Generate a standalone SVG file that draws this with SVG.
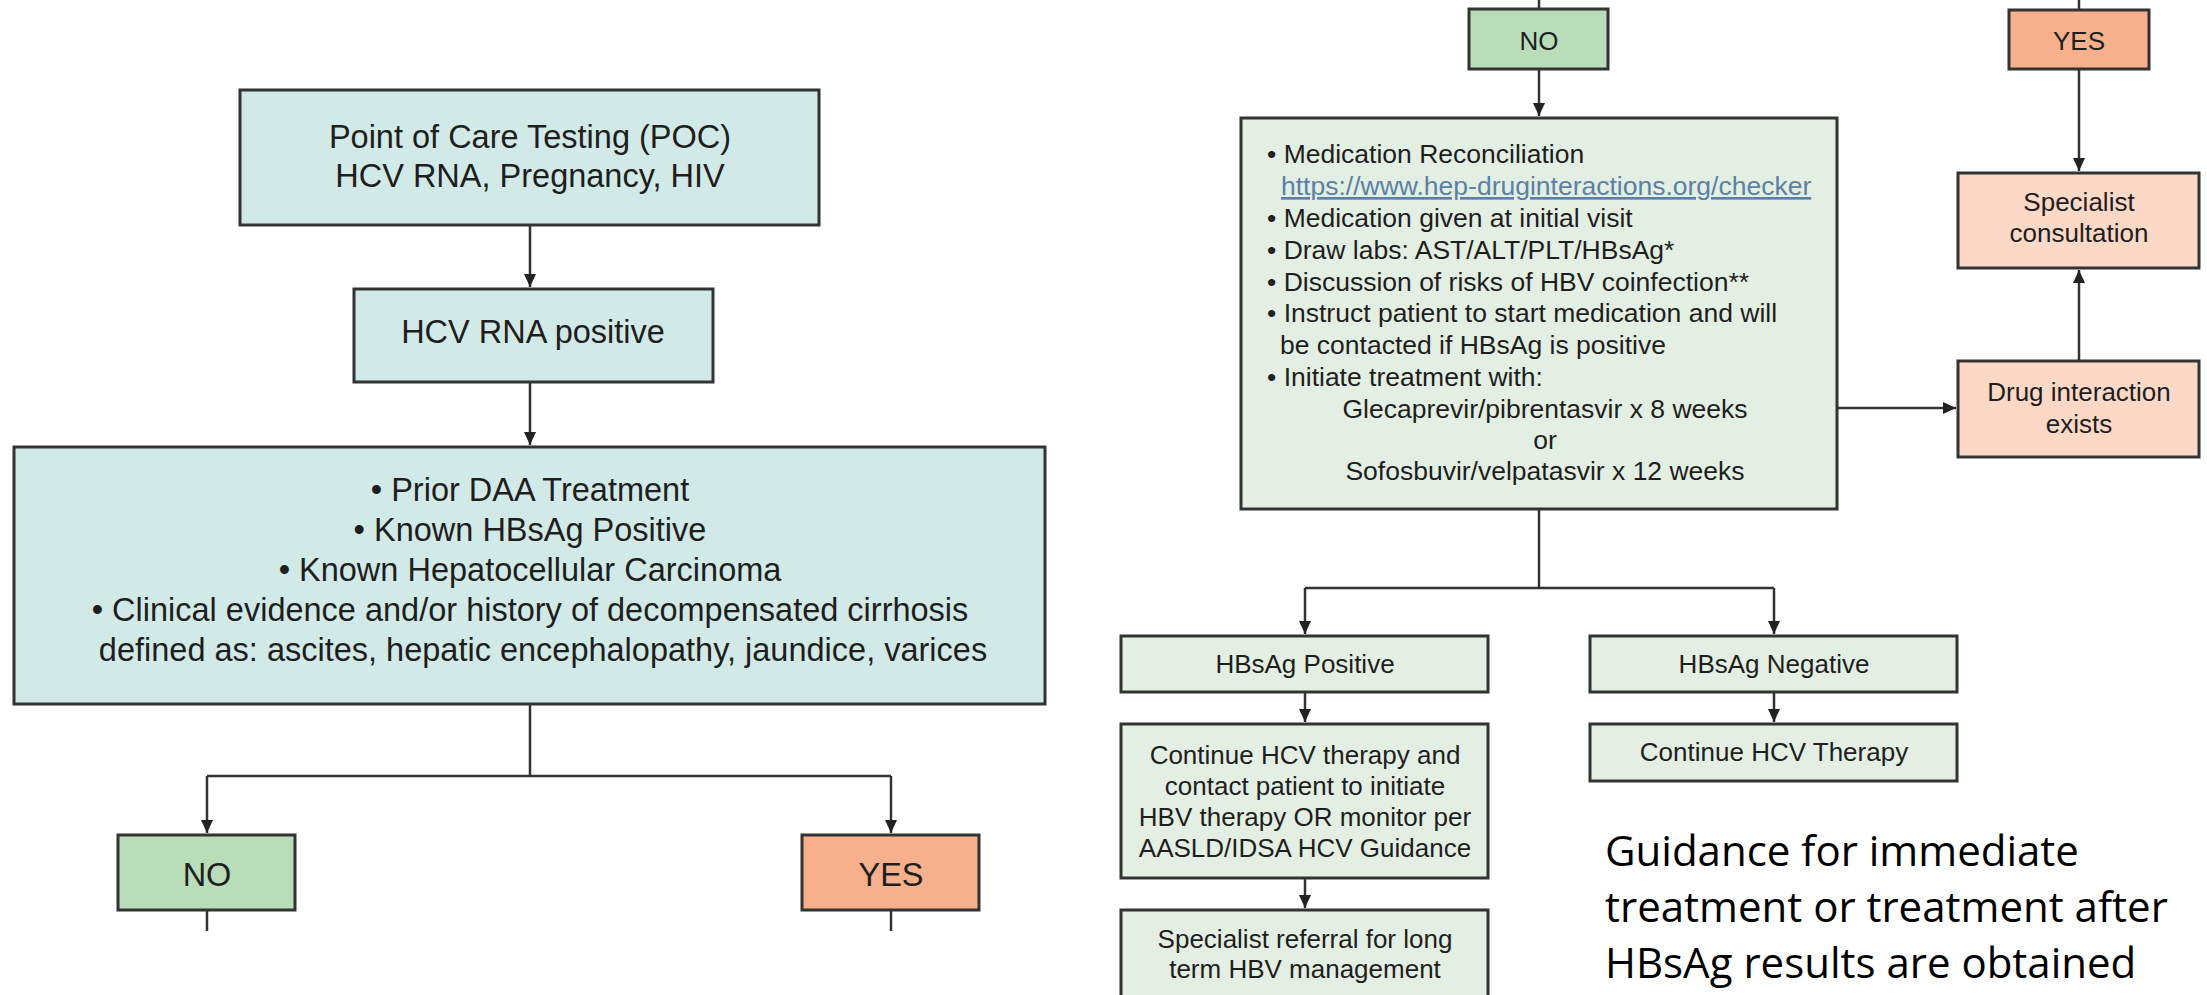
<svg xmlns="http://www.w3.org/2000/svg" width="2207" height="995" viewBox="0 0 2207 995">
<style>
.t{font-family:"Liberation Sans",Arial,sans-serif;fill:#1e1e1e}
.L{font-size:32.5px;text-anchor:middle}
.R{font-size:26px;text-anchor:middle}
.B{font-size:26.5px}
.box{stroke:#333;stroke-width:3}
.teal{fill:#d2eae7}
.lg{fill:#e3efe2}
.no{fill:#b9dcb9}
.yes{fill:#f6b08b}
.pk{fill:#fcd9c6}
.c{fill:none;stroke:#333;stroke-width:2.5}
.url{fill:#5b80a8;text-decoration:underline}
.g{font-family:"Open Sans","Noto Sans",sans-serif;font-size:42px;fill:#000}
</style>
<defs>
<marker id="ah" markerUnits="userSpaceOnUse" markerWidth="14" markerHeight="12" refX="13" refY="6" orient="auto">
<path d="M0,0 L13,6 L0,12 z" fill="#222"/>
</marker>
</defs>
<rect width="2207" height="995" fill="#ffffff"/>
<g id="connectors">
<path class="c" d="M530,225 V287" marker-end="url(#ah)"/>
<path class="c" d="M530,382 V445" marker-end="url(#ah)"/>
<path class="c" d="M530,704 V776 M207,776 H891"/>
<path class="c" d="M207,776 V833" marker-end="url(#ah)"/>
<path class="c" d="M891,776 V833" marker-end="url(#ah)"/>
<path class="c" d="M207,910 V931 M891,910 V931"/>
<path class="c" d="M1539,0 V9 M2079,0 V10"/>
<path class="c" d="M1539,69 V116" marker-end="url(#ah)"/>
<path class="c" d="M2079,69 V171" marker-end="url(#ah)"/>
<path class="c" d="M1837,408 H1956" marker-end="url(#ah)"/>
<path class="c" d="M2079,361 V270" marker-end="url(#ah)"/>
<path class="c" d="M1539,509 V588 M1305,588 H1774"/>
<path class="c" d="M1305,588 V634" marker-end="url(#ah)"/>
<path class="c" d="M1774,588 V634" marker-end="url(#ah)"/>
<path class="c" d="M1305,692 V722" marker-end="url(#ah)"/>
<path class="c" d="M1774,692 V722" marker-end="url(#ah)"/>
<path class="c" d="M1305,878 V908" marker-end="url(#ah)"/>
</g>
<g id="poc">
<rect class="box teal" x="240" y="90" width="579" height="135"/>
<text class="t L" x="530" y="148">Point of Care Testing (POC)</text>
<text class="t L" x="530" y="187">HCV RNA, Pregnancy, HIV</text>
</g>
<g id="hcv-positive">
<rect class="box teal" x="354" y="289" width="359" height="93"/>
<text class="t L" x="533" y="343">HCV RNA positive</text>
</g>
<g id="criteria">
<rect class="box teal" x="14" y="447" width="1031" height="257"/>
<text class="t L" x="530" y="501">• Prior DAA Treatment</text>
<text class="t L" x="530" y="541">• Known HBsAg Positive</text>
<text class="t L" x="530" y="581">• Known Hepatocellular Carcinoma</text>
<text class="t L" x="530" y="621">• Clinical evidence and/or history of decompensated cirrhosis</text>
<text class="t L" x="543" y="661">defined as: ascites, hepatic encephalopathy, jaundice, varices</text>
</g>
<g id="left-no">
<rect class="box no" x="118" y="835" width="177" height="75"/>
<text class="t L" x="207" y="886">NO</text>
</g>
<g id="left-yes">
<rect class="box yes" x="802" y="835" width="177" height="75"/>
<text class="t L" x="891" y="886">YES</text>
</g>
<g id="right-no">
<rect class="box no" x="1469" y="9" width="139" height="60"/>
<text class="t R" x="1539" y="50">NO</text>
</g>
<g id="right-yes">
<rect class="box yes" x="2009" y="10" width="140" height="59"/>
<text class="t R" x="2079" y="50">YES</text>
</g>
<g id="treatment">
<rect class="box lg" x="1241" y="118" width="596" height="391"/>
<text class="t B" x="1267" y="163">• Medication Reconciliation</text>
<text class="t B url" x="1281" y="195">https://www.hep-druginteractions.org/checker</text>
<text class="t B" x="1267" y="227">• Medication given at initial visit</text>
<text class="t B" x="1267" y="259">• Draw labs: AST/ALT/PLT/HBsAg*</text>
<text class="t B" x="1267" y="291">• Discussion of risks of HBV coinfection**</text>
<text class="t B" x="1267" y="322">• Instruct patient to start medication and will</text>
<text class="t B" x="1280" y="354">be contacted if HBsAg is positive</text>
<text class="t B" x="1267" y="386">• Initiate treatment with:</text>
<text class="t B" x="1545" y="418" text-anchor="middle">Glecaprevir/pibrentasvir x 8 weeks</text>
<text class="t B" x="1545" y="449" text-anchor="middle">or</text>
<text class="t B" x="1545" y="480" text-anchor="middle">Sofosbuvir/velpatasvir x 12 weeks</text>
</g>
<g id="specialist-consultation">
<rect class="box pk" x="1958" y="173" width="241" height="95"/>
<text class="t R" x="2079" y="211">Specialist</text>
<text class="t R" x="2079" y="242">consultation</text>
</g>
<g id="drug-interaction">
<rect class="box pk" x="1958" y="361" width="241" height="96"/>
<text class="t R" x="2079" y="401">Drug interaction</text>
<text class="t R" x="2079" y="433">exists</text>
</g>
<g id="hbsag-positive">
<rect class="box lg" x="1121" y="636" width="367" height="56"/>
<text class="t R" x="1305" y="673">HBsAg Positive</text>
</g>
<g id="hbsag-negative">
<rect class="box lg" x="1590" y="636" width="367" height="56"/>
<text class="t R" x="1774" y="673">HBsAg Negative</text>
</g>
<g id="continue-hbv">
<rect class="box lg" x="1121" y="724" width="367" height="154"/>
<text class="t R" x="1305" y="764">Continue HCV therapy and</text>
<text class="t R" x="1305" y="795">contact patient to initiate</text>
<text class="t R" x="1305" y="826">HBV therapy OR monitor per</text>
<text class="t R" x="1305" y="857">AASLD/IDSA HCV Guidance</text>
</g>
<g id="continue-hcv">
<rect class="box lg" x="1590" y="724" width="367" height="57"/>
<text class="t R" x="1774" y="761">Continue HCV Therapy</text>
</g>
<g id="specialist-referral">
<rect class="box lg" x="1121" y="910" width="367" height="100"/>
<text class="t R" x="1305" y="948">Specialist referral for long</text>
<text class="t R" x="1305" y="978">term HBV management</text>
</g>
<g id="guidance-note">
<text class="g" x="1605" y="866">Guidance for immediate</text>
<text class="g" x="1605" y="922">treatment or treatment after</text>
<text class="g" x="1605" y="978">HBsAg results are obtained</text>
</g>
</svg>
